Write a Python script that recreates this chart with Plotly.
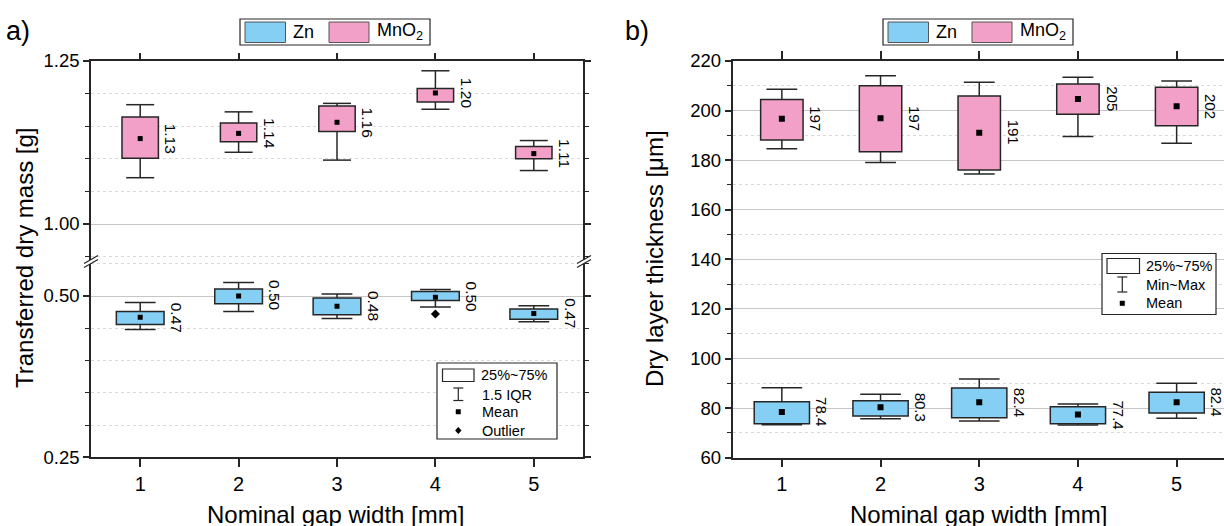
import plotly.graph_objects as go

W, H = 1224, 526
FONT = "Arial, 'Liberation Sans', sans-serif"
INK = "#262626"
ZN_COLOR = "#84CFF3"
MNO2_COLOR = "#F2A0C7"

gap = [1, 2, 3, 4, 5]

# a) transferred dry mass [g]  (box = 25-75 %, whiskers = 1.5 IQR)
mno2_mass_lo = [1.071, 1.110, 1.098, 1.176, 1.082]
mno2_mass_q1 = [1.101, 1.126, 1.142, 1.187, 1.100]
mno2_mass_q3 = [1.164, 1.155, 1.181, 1.208, 1.119]
mno2_mass_hi = [1.183, 1.172, 1.185, 1.235, 1.128]
mno2_mass_mean = [1.131, 1.139, 1.156, 1.201, 1.108]

zn_mass_lo = [0.448, 0.476, 0.465, 0.483, 0.460]
zn_mass_q1 = [0.456, 0.488, 0.471, 0.493, 0.464]
zn_mass_q3 = [0.476, 0.511, 0.497, 0.507, 0.480]
zn_mass_hi = [0.490, 0.521, 0.503, 0.510, 0.485]
zn_mass_mean = [0.467, 0.500, 0.484, 0.498, 0.473]
zn_mass_outlier_x = [4]
zn_mass_outlier_y = [0.472]

# b) dry layer thickness [um]  (box = 25-75 %, whiskers = min-max)
mno2_thk_min = [184.6, 179.1, 174.4, 189.5, 186.8]
mno2_thk_q1 = [188.1, 183.4, 176.0, 198.5, 193.9]
mno2_thk_q3 = [204.5, 210.0, 205.9, 210.7, 209.4]
mno2_thk_max = [208.6, 214.1, 211.4, 213.4, 211.9]
mno2_thk_mean = [196.7, 196.9, 191.1, 204.7, 201.7]

zn_thk_min = [73.3, 75.7, 74.8, 73.2, 75.9]
zn_thk_q1 = [73.7, 76.8, 76.1, 73.7, 78.0]
zn_thk_q3 = [82.6, 83.0, 88.1, 80.5, 86.4]
zn_thk_max = [88.2, 85.6, 91.7, 81.7, 90.0]
zn_thk_mean = [78.4, 80.3, 82.4, 77.4, 82.4]

x_ticks = [1, 2, 3, 4, 5]


def px(x):
    return x / W


def py(y):
    return 1 - y / H


fig = go.Figure()


def add_boxes(xa, ya, lo, q1, q3, hi, mean, color, width, cap, msize, fmt, fsize):
    fig.add_trace(go.Bar(
        x=gap, y=[b - a for a, b in zip(q1, q3)], base=q1, width=width,
        marker=dict(color=color, line=dict(color=INK, width=1.5)),
        xaxis=xa, yaxis=ya, showlegend=False, hoverinfo="skip"))
    wx, wy = [], []
    for x, l, a, b, h in zip(gap, lo, q1, q3, hi):
        wx += [x, x, None, x, x, None]
        wy += [l, a, None, b, h, None]
    fig.add_trace(go.Scatter(
        x=wx, y=wy, mode="lines", line=dict(color=INK, width=1.5),
        xaxis=xa, yaxis=ya, showlegend=False, hoverinfo="skip"))
    fig.add_trace(go.Scatter(
        x=gap + gap, y=lo + hi, mode="markers",
        marker=dict(symbol="line-ew", size=cap, line=dict(color=INK, width=1.5)),
        xaxis=xa, yaxis=ya, showlegend=False, hoverinfo="skip"))
    fig.add_trace(go.Scatter(
        x=gap, y=mean, mode="markers",
        marker=dict(symbol="square", size=msize, color="black"),
        xaxis=xa, yaxis=ya, showlegend=False, hoverinfo="skip"))
    for x, m in zip(gap, mean):
        fig.add_annotation(
            x=x + width / 2, y=m, xref=xa, yref=ya, text=fmt.format(m),
            textangle=90, xanchor="left", yanchor="middle", xshift=2,
            showarrow=False, font=dict(family=FONT, size=fsize, color="black"))


# panel a: Zn on the lower segment, MnO2 on the upper segment of the broken axis
add_boxes("x", "y", zn_mass_lo, zn_mass_q1, zn_mass_q3, zn_mass_hi, zn_mass_mean,
          ZN_COLOR, 0.485, 22, 5, "{:.2f}", 15.5)
fig.add_trace(go.Scatter(
    x=zn_mass_outlier_x, y=zn_mass_outlier_y, mode="markers",
    marker=dict(symbol="diamond", size=7, color="black"),
    xaxis="x", yaxis="y", showlegend=False, hoverinfo="skip"))
add_boxes("x2", "y2", mno2_mass_lo, mno2_mass_q1, mno2_mass_q3, mno2_mass_hi, mno2_mass_mean,
          MNO2_COLOR, 0.37, 20, 5, "{:.2f}", 15.5)

# panel b
add_boxes("x3", "y3", zn_thk_min, zn_thk_q1, zn_thk_q3, zn_thk_max, zn_thk_mean,
          ZN_COLOR, 0.56, 29, 6, "{:.1f}", 15)
add_boxes("x3", "y3", mno2_thk_min, mno2_thk_q1, mno2_thk_q3, mno2_thk_max, mno2_thk_mean,
          MNO2_COLOR, 0.43, 22, 6, "{:.0f}", 15)

GRID_MAJOR = "#c6c6c6"
GRID_MINOR = "#d9d9d9"

base_axis = dict(showline=True, linecolor=INK, linewidth=1.5, ticks="outside",
                 tickcolor=INK, tickwidth=1.5, zeroline=False, automargin=False)


def yaxis(domain, rng, dtick, tick0, mdtick, fmt, mirror):
    return dict(
        base_axis, domain=domain, range=rng, dtick=dtick, tick0=tick0, tickformat=fmt,
        ticklen=6, mirror=mirror, showgrid=True, gridcolor=GRID_MAJOR, gridwidth=1.2,
        tickfont=dict(family=FONT, size=18.5, color="black"),
        minor=dict(dtick=mdtick, tick0=tick0, ticks="outside", ticklen=4, tickcolor=INK,
                   tickwidth=1.2, showgrid=True, gridcolor=GRID_MINOR, griddash="dot",
                   gridwidth=1))


xa_dom = [px(91), px(583)]
xb_dom = [px(732.5), 1.0]
brk = py(260)

fig.update_layout(
    width=W, height=H, autosize=False,
    margin=dict(l=0, r=0, t=0, b=0, pad=0),
    paper_bgcolor="white", plot_bgcolor="white",
    barmode="overlay", showlegend=False,
    font=dict(family=FONT, color="black"),
    xaxis=dict(base_axis, domain=xa_dom, range=[0.5, 5.5], anchor="y", tickvals=x_ticks,
               ticklen=8, showgrid=False, tickfont=dict(family=FONT, size=20, color="black")),
    xaxis2=dict(base_axis, domain=xa_dom, range=[0.5, 5.5], anchor="y2", side="top",
                tickvals=x_ticks, ticklen=6, showgrid=False, showticklabels=False),
    yaxis=yaxis([py(457.3), brk], [0.25, 0.5558], 0.25, 0.25, 0.05, ".2f", "ticks"),
    yaxis2=yaxis([brk, py(61)], [0.9448, 1.25], 0.25, 0.0, 0.05, ".2f", "ticks"),
    xaxis3=dict(base_axis, domain=xb_dom, range=[0.5, 5.48], anchor="y3", tickvals=x_ticks,
                ticklen=8, mirror="ticks", showgrid=False,
                tickfont=dict(family=FONT, size=20, color="black")),
    yaxis3=dict(yaxis([py(457.7), py(61)], [60, 220], 20, 0, 10, "d", False), anchor="x3"),
)
fig.update_layout(yaxis=dict(anchor="x"), yaxis2=dict(anchor="x2"))

shapes = []
ann = []


def text(x, y, s, size, xanchor="left", angle=0):
    ann.append(dict(x=px(x), y=py(y), xref="paper", yref="paper", text=s, showarrow=False,
                    xanchor=xanchor, yanchor="middle", textangle=angle,
                    font=dict(family=FONT, size=size, color="black")))


def rect(x0, y0, x1, y1, fill, line=INK, lw=1.2):
    shapes.append(dict(type="rect", xref="paper", yref="paper",
                       x0=px(x0), x1=px(x1), y0=py(y1), y1=py(y0),
                       fillcolor=fill, line=dict(color=line, width=lw)))


def seg(x0, y0, x1, y1, lw=1.3, color=INK):
    shapes.append(dict(type="line", xref="paper", yref="paper",
                       x0=px(x0), x1=px(x1), y0=py(y0), y1=py(y1),
                       line=dict(color=color, width=lw)))


# axis break marks on panel a
for bx in (91, 584):
    shapes.append(dict(type="path", xref="paper", yref="paper",
                       path=f"M {px(bx-6)},{py(263)} L {px(bx+6)},{py(256)} "
                            f"L {px(bx+6)},{py(260)} L {px(bx-6)},{py(267)} Z",
                       fillcolor="white", line=dict(width=0)))
    seg(bx - 7, 263.5, bx + 7, 255.5)
    seg(bx - 7, 267.5, bx + 7, 259.5)

# series legends above each panel
for lx in (240, 883):
    rect(lx, 19, lx + 190, 45, "white")
    rect(lx + 5, 22, lx + 45.5, 42.5, ZN_COLOR, "#555555", 1)
    text(lx + 51, 32, "Zn", 18)
    rect(lx + 89, 22, lx + 129, 42.5, MNO2_COLOR, "#555555", 1)
    text(lx + 135, 32, "MnO<sub>2</sub>", 18)

# box-style key, panel a
rect(437, 363, 557, 439, "white")
rect(442.5, 369, 474, 381.5, "white")
text(479, 374.5, "25%~75%", 14.5)
seg(458.3, 388, 458.3, 400.5, 1.2)
seg(453.3, 388, 463.3, 388, 1.2)
seg(453.3, 400.5, 463.3, 400.5, 1.2)
text(480, 394.5, "1.5 IQR", 14.5)
rect(456, 409.5, 460.5, 414, "black", "black", 0.5)
text(480, 412, "Mean", 14.5)
shapes.append(dict(type="path", xref="paper", yref="paper",
                   path=f"M {px(458.3)},{py(427)} L {px(461.5)},{py(430.5)} "
                        f"L {px(458.3)},{py(434)} L {px(455.1)},{py(430.5)} Z",
                   fillcolor="black", line=dict(width=0)))
text(480, 430.5, "Outlier", 14.5)

# box-style key, panel b
rect(1102, 253.5, 1216, 314.5, "white")
rect(1107, 258.5, 1139.5, 273.5, "white")
text(1143.5, 266, "25%~75%", 14.5)
seg(1122.3, 277, 1122.3, 292, 1.2)
seg(1117.3, 277, 1127.3, 277, 1.2)
seg(1117.3, 292, 1127.3, 292, 1.2)
text(1143.5, 284.5, "Min~Max", 14.5)
rect(1120, 301, 1124.6, 305.6, "black", "black", 0.5)
text(1143.5, 303, "Mean", 14.5)

# panel tags and axis titles
text(4, 31, "a)", 27)
text(623, 31, "b)", 27)
text(24, 258, "Transferred dry mass [g]", 24, "center", -90)
text(655, 259, "Dry layer thickness [μm]", 24, "center", -90)
text(335, 514, "Nominal gap width [mm]", 24, "center")
text(978, 514, "Nominal gap width [mm]", 24, "center")

fig.update_layout(shapes=shapes, annotations=list(fig.layout.annotations) + ann)

fig.write_html("out.html")
